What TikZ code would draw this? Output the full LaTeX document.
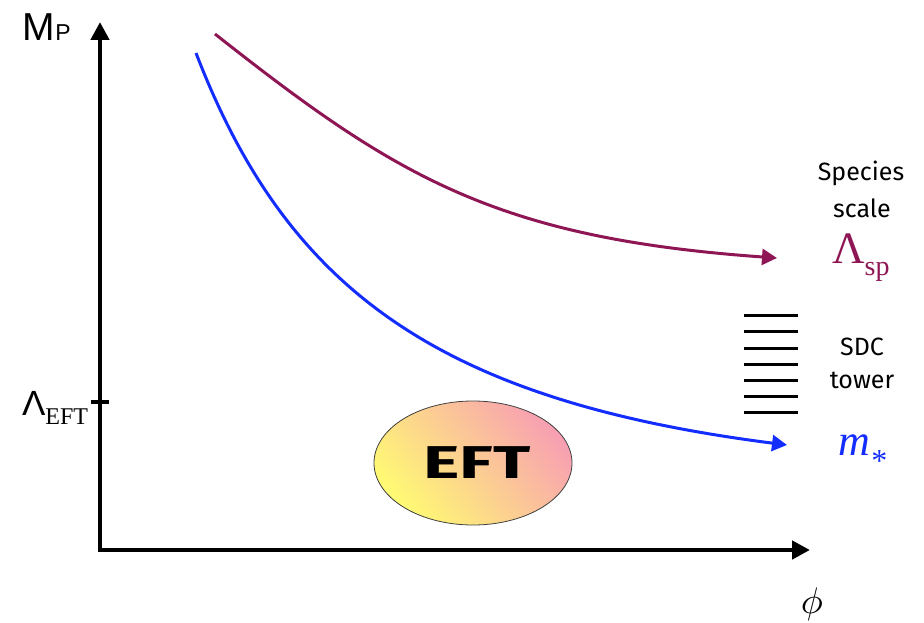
\documentclass[tikz,border=0pt]{standalone}
\usepackage{fontspec}
\usetikzlibrary{arrows.meta,shapes.geometric}
\newfontfamily\arialf{Liberation Sans}
\newfontfamily\timesf{Liberation Serif}
\newfontfamily\handf{Fira Sans}
\definecolor{maroonc}{RGB}{142,22,84}
\definecolor{bluec}{RGB}{20,45,255}
\definecolor{eftyellow}{RGB}{255,250,115}
\definecolor{eftpink}{RGB}{248,160,178}
\tikzset{
  axisline/.style={line width=4.5pt,-{Triangle[length=18pt,width=18pt]}},
  curveline/.style={line width=3pt,-{Triangle[length=15pt,width=16pt]}},
  towerline/.style={line width=3pt},
  lbl/.style={inner sep=0pt,outer sep=0pt},
  handtxt/.style={inner sep=0pt,font=\handf\fontsize{25}{25}\selectfont},
}
\begin{document}
\begin{tikzpicture}[x=1pt,y=-1pt]
\useasboundingbox (0,0) rectangle (924,623);
% axes
\coordinate (origin) at (100,550);
\coordinate (ytip) at (100,22);
\coordinate (xtip) at (810,550);
\draw[axisline] ([yshift=-2.25pt]origin) -- (ytip);
\draw[axisline] ([xshift=-2.25pt]origin) -- (xtip);
% tick
\coordinate (tickl) at (91,402);
\coordinate (tickr) at (109,402);
\draw[line width=4pt] (tickl) -- (tickr);
% labels on axes
\node[lbl,anchor=base west] (mp) at (23,41) {\arialf\fontsize{39}{39}\selectfont M\fontsize{23}{23}\selectfont P};
\node[lbl,anchor=base west] (left) at (22,415) {\arialf\fontsize{35}{35}\selectfont Λ\raisebox{-9pt}{\timesf\fontsize{24}{24}\selectfont EFT}};
\node[lbl] (phi) at (812,604) {\scalebox{3.7}{$\phi$}};
% EFT ellipse
\node[ellipse,draw=black!75,line width=0.8pt,minimum width=198pt,minimum height=124pt,
  top color=eftpink,bottom color=eftyellow,shading angle=-50] (eft) at (473,463) {};
\node[lbl] (efttxt) at (477,463) {\scalebox{1.5}[1]{\handf\bfseries\fontsize{46}{46}\selectfont EFT}};
% curves
\coordinate (ms) at (215,34);
\coordinate (me) at (777,258);
\draw[curveline,maroonc] (ms) .. controls (395,176) and (495,238) .. (me);
\coordinate (bs) at (196,53);
\coordinate (be) at (787,445);
\draw[curveline,bluec] (bs) .. controls (286,287) and (435,400) .. (be);
% right labels
\node[handtxt] (species) at (861,173) {Species};
\node[handtxt] (scale) at (862,208) {scale};
\node[lbl,anchor=base west,text=maroonc] (lsp) at (832,263) {\timesf\fontsize{45}{45}\selectfont Λ\raisebox{-12pt}{\fontsize{28}{28}\selectfont sp}};
\node[handtxt] (sdc) at (862,347) {SDC};
\node[handtxt] (tower) at (862,380) {tower};
\node[lbl,anchor=base west,text=bluec] (mstar) at (838,455) {\timesf\itshape\fontsize{44}{44}\selectfont m\raisebox{-16pt}{\fontsize{32}{32}\selectfont *}};
% tower lines
\foreach \yy in {315,331,348,364,380,396,412}{
  \draw[towerline] (744,\yy) -- (798,\yy);
}
\end{tikzpicture}
\end{document}
